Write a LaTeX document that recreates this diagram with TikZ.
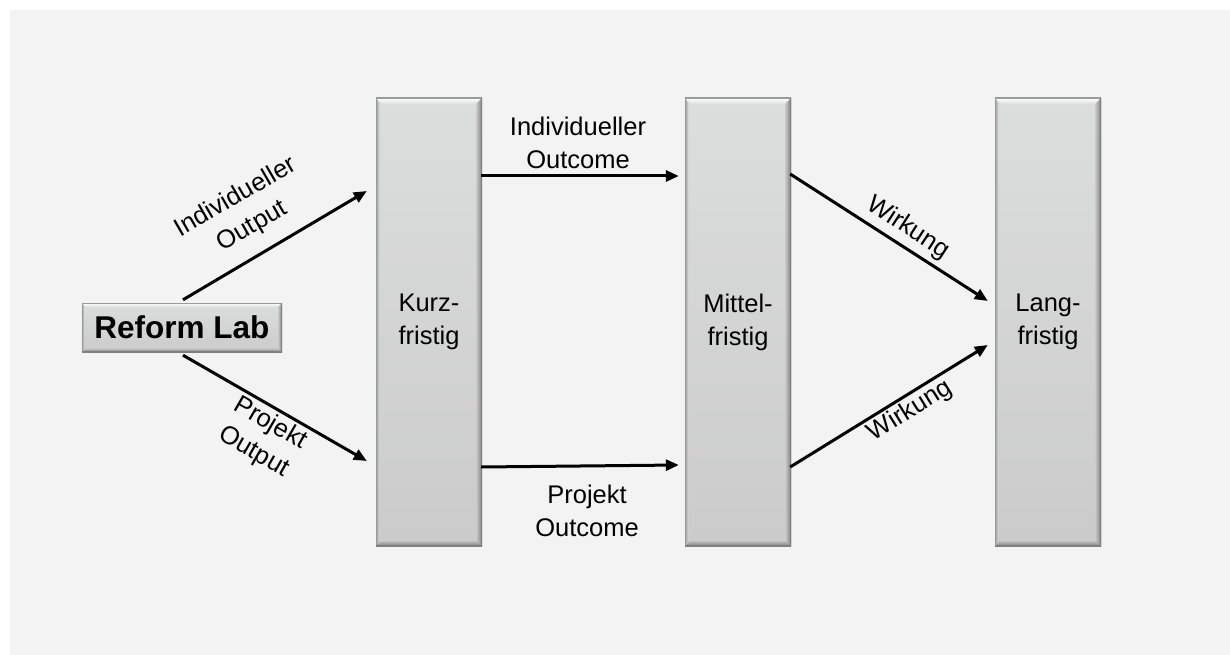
\documentclass[tikz,border=0pt]{standalone}
\usepackage{fontspec}
\setmainfont{Liberation Sans}
\usetikzlibrary{arrows.meta,calc}
\definecolor{bg}{HTML}{F2F3F2}
\definecolor{boxtop}{HTML}{DCDDDD}
\definecolor{boxbot}{HTML}{CACBCA}
\definecolor{boxdark}{HTML}{7E7F7E}
\definecolor{boxedge}{HTML}{999A99}
\tikzset{
  bevel/.style={inner sep=0pt, top color=boxtop, bottom color=boxbot, draw=none,
    path picture={
      \coordinate (pnw) at (path picture bounding box.north west);
      \coordinate (pne) at (path picture bounding box.north east);
      \coordinate (psw) at (path picture bounding box.south west);
      \coordinate (pse) at (path picture bounding box.south east);
      \shade[top color=white, bottom color=boxtop] (pnw) -- (pne) -- ($(pne)+(-#1,#1)$) -- ($(pnw)+(#1,#1)$) -- cycle;
      \shade[left color=boxbot, right color=boxdark] (pne) -- (pse) -- ($(pse)+(-#1,-#1)$) -- ($(pne)+(-#1,#1)$) -- cycle;
      \shade[top color=boxbot, bottom color=boxdark] (psw) -- (pse) -- ($(pse)+(-#1,-#1)$) -- ($(psw)+(#1,-#1)$) -- cycle;
      \shade[left color=boxedge, right color=boxtop] (pnw) -- (psw) -- ($(psw)+(#1*0.6,-#1)$) -- ($(pnw)+(#1*0.6,#1)$) -- cycle;
      \draw[boxedge, line width=2pt] (pnw) -- (pne);
      \draw[boxedge, line width=2pt] (pnw) -- (psw);
      \draw[boxdark, line width=2pt] (pne) -- (pse) -- (psw);
    }},
  bevel/.default=6,
  stage/.style={bevel, minimum width=106, minimum height=448, align=center,
    font=\fontsize{25.5}{33}\selectfont},
  lbl/.style={align=center, inner sep=0pt, font=\fontsize{25.5}{33}\selectfont},
  arr/.style={line width=3pt, -{Triangle[length=13pt,width=11pt]}}
}
\begin{document}
\begin{tikzpicture}[x=1pt,y=-1pt]
\useasboundingbox (0,0) rectangle (1230,655);
\fill[white] (0,0) rectangle (1230,655);
\fill[bg] (10,10) rectangle (1230,655);

\node[stage] (kurz) at (429,322) {Kurz-\\fristig};
\node[stage] (mittel) at (738,322) {Mittel-\\fristig};
\node[stage] (lang) at (1048,322) {Lang-\\fristig};
\node[bevel=4, minimum width=200, minimum height=49, font=\bfseries\fontsize{31.5}{36}\selectfont] (lab) at (182,327.5) {Reform Lab};

\draw[arr] ($(lab.north)+(1,-3)$) -- ($(kurz.west)+(-9,-131)$);
\draw[arr] ($(lab.south)+(1,3)$) -- ($(kurz.west)+(-9,139)$);
\draw[arr] ($(kurz.east)+(-1,-146)$) -- ($(mittel.west)+(-6,-146)$);
\draw[arr] ($(kurz.east)+(-1,145)$) -- ($(mittel.west)+(-6,143)$);
\draw[arr] ($(mittel.east)+(-1,-148)$) -- ($(lang.west)+(-7,-21)$);
\draw[arr] ($(mittel.east)+(-1,145)$) -- ($(lang.west)+(-7,23)$);

\node[lbl, rotate=30] (l1) at (244,212) {Individueller\\Output};
\node[lbl, rotate=-30] (l2) at (262,438) {Projekt\\Output};
\node[lbl] (l3) at (578,143) {Individueller\\Outcome};
\node[lbl] (l4) at (587,511) {Projekt\\Outcome};
\node[lbl, rotate=-33] (l5) at (908,228) {Wirkung};
\node[lbl, rotate=32] (l6) at (910,411) {Wirkung};
\end{tikzpicture}
\end{document}
